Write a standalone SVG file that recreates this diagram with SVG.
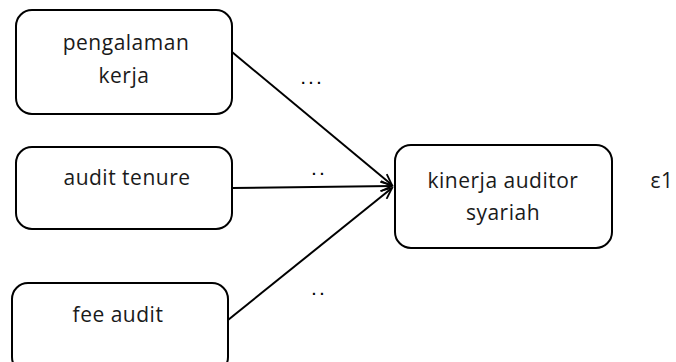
<svg xmlns="http://www.w3.org/2000/svg" width="676" height="362" viewBox="0 0 676 362">
<defs>
<marker id="arr" markerWidth="14" markerHeight="12" refX="12" refY="6" orient="auto" markerUnits="userSpaceOnUse">
<path d="M1,1 L12,6 L1,11" fill="none" stroke="#000" stroke-width="1.8"/>
</marker>
</defs>
<style>
.box{fill:#fff;stroke:#000;stroke-width:2}
.t{font-family:"Open Sans","Liberation Sans",sans-serif;font-size:21px;fill:#1a1a1a;text-anchor:middle;letter-spacing:0.5px}
.d{font-family:"Liberation Sans",sans-serif;font-size:14px;font-weight:bold;fill:#000;text-anchor:middle;letter-spacing:4px}
.c{fill:none;stroke:#000;stroke-width:2}
</style>
<rect width="676" height="362" fill="#fff"/>
<g id="connectors">
<line class="c" x1="232" y1="52" x2="392" y2="185" marker-end="url(#arr)"/>
<line class="c" x1="232" y1="188" x2="392" y2="186" marker-end="url(#arr)"/>
<line class="c" x1="228" y1="320" x2="392" y2="188" marker-end="url(#arr)"/>
<text class="d" x="313" y="84">...</text>
<text class="d" x="320" y="175">..</text>
<text class="d" x="320" y="295">..</text>
</g>
<g id="pengalaman">
<rect class="box" x="16" y="10" width="216" height="104" rx="16"/>
<text class="t" x="126" y="50">pengalaman</text>
<text class="t" x="124" y="83">kerja</text>
</g>
<g id="tenure">
<rect class="box" x="16" y="147" width="216" height="82" rx="16"/>
<text class="t" x="127" y="185">audit tenure</text>
</g>
<g id="fee">
<rect class="box" x="12" y="283" width="216" height="90" rx="16"/>
<text class="t" x="118" y="322">fee audit</text>
</g>
<g id="kinerja">
<rect class="box" x="395" y="145" width="217" height="103" rx="16"/>
<text class="t" x="503" y="188">kinerja auditor</text>
<text class="t" x="503" y="220">syariah</text>
</g>
<g id="epsilon">
<text class="t" x="662" y="188">ε1</text>
</g>
</svg>
